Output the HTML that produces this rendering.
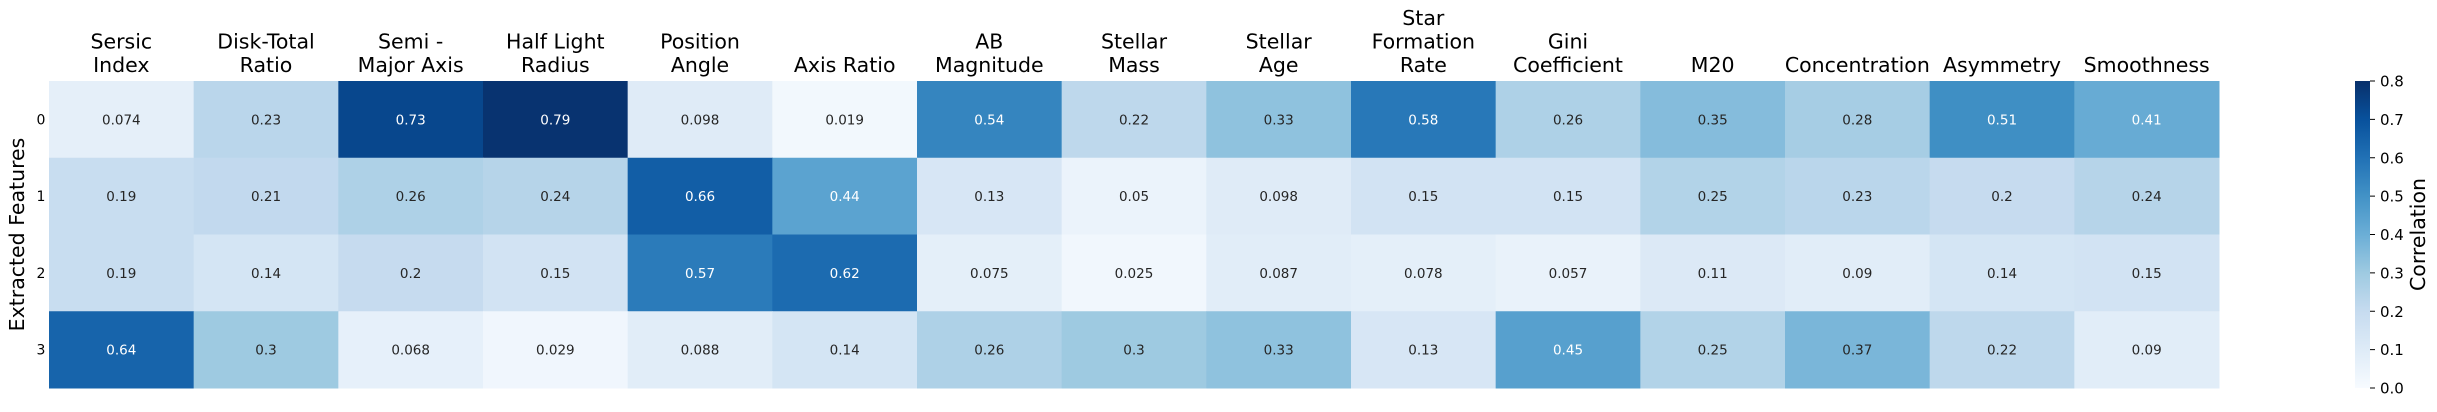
<!DOCTYPE html>
<html><head><meta charset="utf-8"><style>
body{margin:0;background:#fff;}
svg text{font-family:"DejaVu Sans","Liberation Sans",sans-serif;}
</style></head><body>
<svg id="chart" width="2437" height="407" xmlns="http://www.w3.org/2000/svg">
<defs><linearGradient id="cbg" x1="0" y1="1" x2="0" y2="0">
<stop offset="0" stop-color="#f7fbff"/><stop offset="0.125" stop-color="#deebf7"/><stop offset="0.25" stop-color="#c6dbef"/><stop offset="0.375" stop-color="#9ecae1"/><stop offset="0.5" stop-color="#6baed6"/><stop offset="0.625" stop-color="#4292c6"/><stop offset="0.75" stop-color="#2171b5"/><stop offset="0.875" stop-color="#08519c"/><stop offset="1" stop-color="#08306b"/></linearGradient></defs>
<g id="cells"></g><g id="xlabels"></g><g id="ylabels"></g><g id="cbar"></g>
</svg>
<script>
const columns = [["Sersic","Index"],["Disk-Total","Ratio"],["Semi -","Major Axis"],["Half Light","Radius"],["Position","Angle"],["Axis Ratio"],["AB","Magnitude"],["Stellar","Mass"],["Stellar","Age"],["Star","Formation","Rate"],["Gini","Coefficient"],["M20"],["Concentration"],["Asymmetry"],["Smoothness"]];
const rowLabels = ["0","1","2","3"];
const row0 = [0.074,0.23,0.73,0.79,0.098,0.019,0.54,0.22,0.33,0.58,0.26,0.35,0.28,0.51,0.41];
const row1 = [0.19,0.21,0.26,0.24,0.66,0.44,0.13,0.05,0.098,0.15,0.15,0.25,0.23,0.2,0.24];
const row2 = [0.19,0.14,0.2,0.15,0.57,0.62,0.075,0.025,0.087,0.078,0.057,0.11,0.09,0.14,0.15];
const row3 = [0.64,0.3,0.068,0.029,0.088,0.14,0.26,0.3,0.33,0.13,0.45,0.25,0.37,0.22,0.09];
const rows = [row0,row1,row2,row3];
const cbTicks = [0,0.1,0.2,0.3,0.4,0.5,0.6,0.7,0.8];
const vmin=0, vmax=0.8;
const X0=49, X1=2219, Y0=81, Y1=388;
const cw=(X1-X0)/columns.length, rh=(Y1-Y0)/rowLabels.length;
const stops=["#f7fbff","#deebf7","#c6dbef","#9ecae1","#6baed6","#4292c6","#2171b5","#08519c","#08306b"].map(h=>[1,3,5].map(i=>parseInt(h.substr(i,2),16)));
function color(v){let t=Math.max(0,Math.min(1,(v-vmin)/(vmax-vmin)))*8;let i=Math.min(7,Math.floor(t)),f=t-i;
const c=stops[i].map((a,k)=>Math.round(a+(stops[i+1][k]-a)*f));return `rgb(${c})`;}
const NS="http://www.w3.org/2000/svg";
function mk(tag,attrs,parent,txt){const e=document.createElementNS(NS,tag);for(const k in attrs)e.setAttribute(k,attrs[k]);if(txt!==undefined)e.textContent=txt;parent.appendChild(e);return e;}
const cells=document.getElementById('cells');
rows.forEach((r,ri)=>r.forEach((v,ci)=>{
 const rect=mk('rect',{x:X0+ci*cw,y:Y0+ri*rh,width:cw+0.5,height:rh+0.5,fill:color(v)},cells);
 
 
 const t=mk('text',{x:X0+(ci+0.5)*cw,y:Y0+(ri+0.5)*rh+5,'text-anchor':'middle','font-size':'13.5',fill:v>=0.4?'#fff':'#262626'},cells,String(v));
 
 
}));
const xl=document.getElementById('xlabels');
columns.forEach((lines,ci)=>{
 const t=mk('text',{'text-anchor':'middle','font-size':'20.5',fill:'#000'},xl);
 
 
 lines.forEach((s,li)=>{mk('tspan',{x:X0+(ci+0.5)*cw,y:72-(lines.length-1-li)*23.5},t,s);});
});
const yl=document.getElementById('ylabels');
rowLabels.forEach((s,ri)=>{const t=mk('text',{x:41,y:Y0+(ri+0.5)*rh+5,'text-anchor':'middle','font-size':'14',fill:'#000'},yl,s);
 
 });
const yt=mk('text',{x:0,y:0,transform:`translate(24,${(Y0+Y1)/2}) rotate(-90)`,'text-anchor':'middle','font-size':'20.5',fill:'#000'},yl,'Extracted Features');


const cb=document.getElementById('cbar');
const cbr=mk('rect',{x:2355,y:Y0,width:15,height:Y1-Y0,fill:'url(#cbg)'},cb);


cbTicks.forEach(v=>{const y=Y1-(v-vmin)/(vmax-vmin)*(Y1-Y0);
 mk('line',{x1:2370,x2:2375,y1:y,y2:y,stroke:'#000','stroke-width':1},cb);
 const t=mk('text',{x:2380,y:y+5.5,'font-size':'15',fill:'#000'},cb,v.toFixed(1));
 
 });
const ct=mk('text',{x:0,y:0,transform:`translate(2425,${(Y0+Y1)/2}) rotate(-90)`,'text-anchor':'middle','font-size':'20.5',fill:'#000'},cb,'Correlation');


</script>
</body></html>
